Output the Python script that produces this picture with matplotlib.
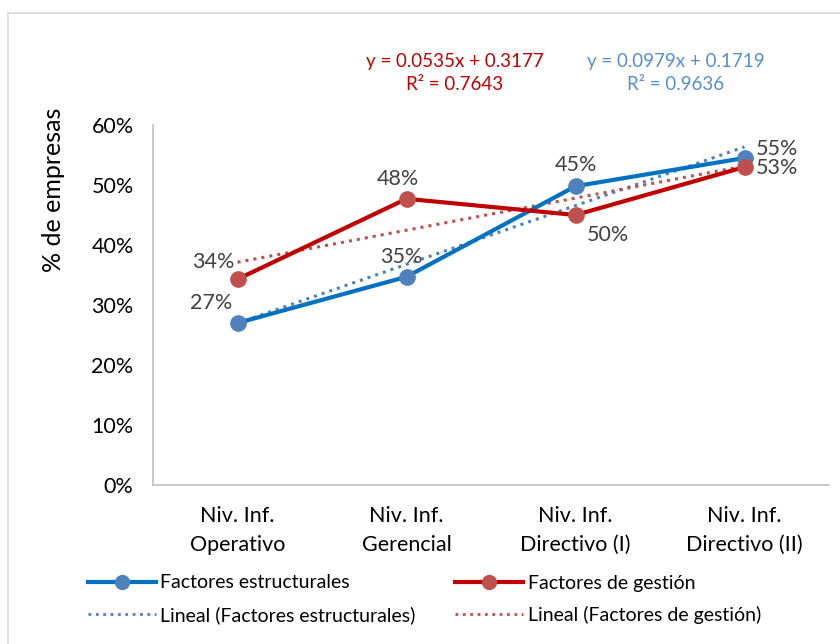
import matplotlib.pyplot as plt
from matplotlib.patches import Rectangle
from matplotlib.lines import Line2D
from matplotlib.ticker import FuncFormatter

plt.rcParams['font.family'] = ['Lato', 'DejaVu Sans']

categories = ['Niv. Inf.\nOperativo', 'Niv. Inf.\nGerencial',
              'Niv. Inf.\nDirectivo (I)', 'Niv. Inf.\nDirectivo (II)']
estructurales = [0.27, 0.347, 0.498, 0.545]
gestion = [0.343, 0.477, 0.45, 0.53]
# labels as printed in the source chart
labels_estr = ['27%', '35%', '45%', '55%']
labels_gest = ['34%', '48%', '50%', '53%']
# trend line coefficients (slope, intercept) as shown
trend_estr = (0.0979, 0.1719)
trend_gest = (0.0535, 0.3177)
r2_estr = 0.9636
r2_gest = 0.7643

BLUE_LINE = '#0070C0'
BLUE_MARK = '#4F81BD'
RED_LINE = '#C00000'
RED_MARK = '#C0504D'
TXT = '#404040'

fig = plt.figure(figsize=(8.4, 6.44), dpi=100)
fig.patches.append(Rectangle((8 / 840, -0.1), 1.2, (644 - 13) / 644 + 0.1,
                             transform=fig.transFigure, fill=False,
                             edgecolor='#D9D9D9', linewidth=1.2))
ax = fig.add_axes([153 / 840, (644 - 485) / 644, (829 - 153) / 840, 360 / 644])

x = [1, 2, 3, 4]
tx = [1, 4]
ax.plot(tx, [trend_estr[0] * v + trend_estr[1] for v in tx], ':', color=BLUE_MARK, lw=2.2)
ax.plot(tx, [trend_gest[0] * v + trend_gest[1] for v in tx], ':', color=RED_MARK, lw=2.2)
ax.plot(x, estructurales, '-', color=BLUE_LINE, lw=3, marker='o', ms=11,
        mfc=BLUE_MARK, mec=BLUE_MARK, zorder=3)
ax.plot(x, gestion, '-', color=RED_LINE, lw=3, marker='o', ms=11,
        mfc=RED_MARK, mec=RED_MARK, zorder=3)

lab_kw = dict(fontsize=15.5, color=TXT)
# estructurales labels
ax.annotate(labels_estr[0], (x[0], estructurales[0]), xytext=(-4, 7),
            textcoords='offset points', ha='right', va='bottom', **lab_kw)
ax.annotate(labels_estr[1], (x[1], estructurales[1]), xytext=(-4, 7),
            textcoords='offset points', ha='center', va='bottom', **lab_kw)
ax.annotate(labels_estr[2], (x[2], estructurales[2]), xytext=(0, 8),
            textcoords='offset points', ha='center', va='bottom', **lab_kw)
ax.annotate(labels_estr[3], (x[3], estructurales[3]), xytext=(8, -1),
            textcoords='offset points', ha='left', va='bottom', **lab_kw)
# gestion labels
ax.annotate(labels_gest[0], (x[0], gestion[0]), xytext=(-2, 5),
            textcoords='offset points', ha='right', va='bottom', **lab_kw)
ax.annotate(labels_gest[1], (x[1], gestion[1]), xytext=(-6, 7),
            textcoords='offset points', ha='center', va='bottom', **lab_kw)
ax.annotate(labels_gest[2], (x[2], gestion[2]), xytext=(8, -7),
            textcoords='offset points', ha='left', va='top', **lab_kw)
ax.annotate(labels_gest[3], (x[3], gestion[3]), xytext=(8, -1),
            textcoords='offset points', ha='left', va='center', **lab_kw)

ax.set_xlim(0.5, 4.5)
ax.set_ylim(0, 0.6)
ax.set_yticks([0, 0.1, 0.2, 0.3, 0.4, 0.5, 0.6])
ax.yaxis.set_major_formatter(FuncFormatter(lambda v, p: f'{v * 100:.0f}%'))
ax.set_xticks(x)
ax.set_xticklabels(categories, linespacing=1.55)
ax.tick_params(axis='both', length=0, labelsize=15.5, labelcolor='black')
ax.tick_params(axis='y', pad=14)
ax.tick_params(axis='x', pad=15)
for s in ['top', 'right']:
    ax.spines[s].set_visible(False)
for s in ['left', 'bottom']:
    ax.spines[s].set_color('#BFBFBF')
    ax.spines[s].set_linewidth(1.2)
ax.set_ylabel('% de empresas', fontsize=18)
ax.yaxis.set_label_coords(-0.13, 0.82)

# trend equations
fig.text(455 / 840, 1 - 73 / 644, f'y = {trend_gest[0]}x + {trend_gest[1]}\nR² = {r2_gest}',
         ha='center', va='center', fontsize=13.5, color=RED_LINE, linespacing=1.45)
fig.text(676 / 840, 1 - 73 / 644, f'y = {trend_estr[0]}x + {trend_estr[1]}\nR² = {r2_estr}',
         ha='center', va='center', fontsize=13.5, color='#558ED5', linespacing=1.45)

handles = [
    Line2D([], [], color=BLUE_LINE, lw=3, marker='o', ms=10, mfc=BLUE_MARK, mec=BLUE_MARK),
    Line2D([], [], ls=':', color=BLUE_MARK, lw=2),
    Line2D([], [], color=RED_LINE, lw=3, marker='o', ms=10, mfc=RED_MARK, mec=RED_MARK),
    Line2D([], [], ls=':', color=RED_MARK, lw=2),
]
names = ['Factores estructurales', 'Lineal (Factores estructurales)',
         'Factores de gestión', 'Lineal (Factores de gestión)']
fig.legend(handles, names, loc='upper left', bbox_to_anchor=(70 / 840, 1 - 557 / 644),
           ncol=2, frameon=False, fontsize=14, handlelength=3.5, handletextpad=0.25,
           columnspacing=2.0, labelspacing=0.75)

fig.savefig('out.png', dpi=100)
